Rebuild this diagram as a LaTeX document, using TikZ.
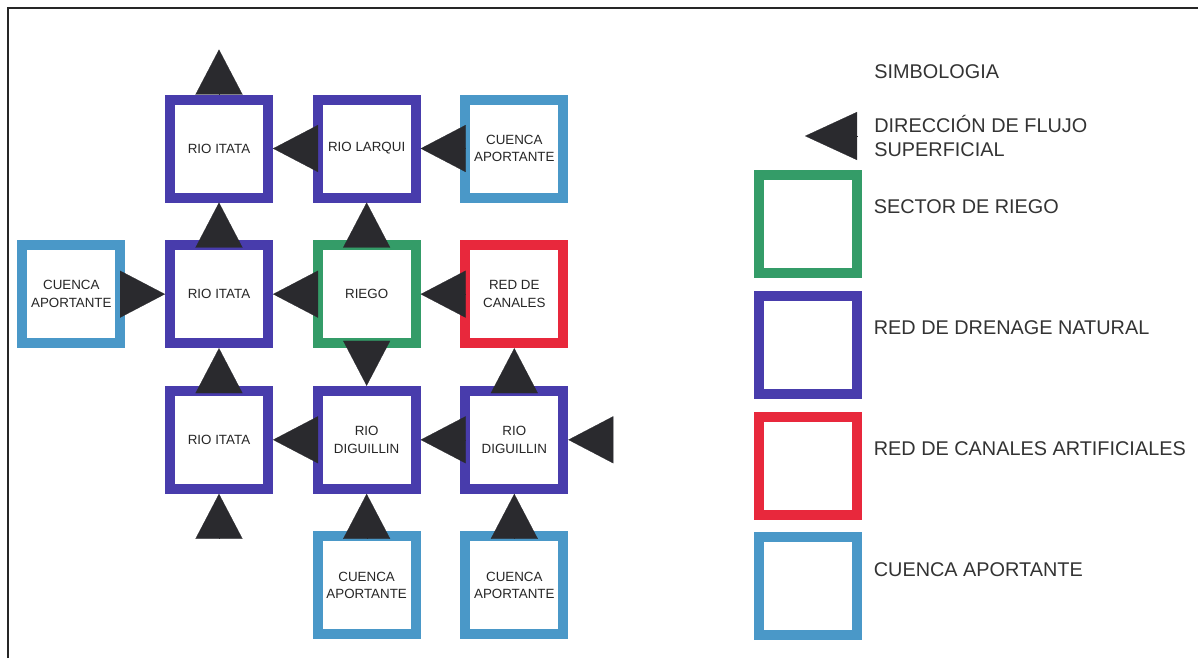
\documentclass[tikz,border=0pt]{standalone}
\usepackage{fontspec}
\setmainfont{Liberation Sans}
\usetikzlibrary{arrows.meta, positioning}
\definecolor{drenage}{RGB}{72,60,172}
\definecolor{riegocol}{RGB}{52,156,104}
\definecolor{canalcol}{RGB}{232,40,60}
\definecolor{cuencacol}{RGB}{74,152,200}
\definecolor{flowgray}{RGB}{42,42,46}

\begin{document}
\begin{tikzpicture}[
    node distance=0.753cm and 0.793cm,
    cell/.style={rectangle, draw=#1, line width=0.2cm, minimum size=1.96cm, inner sep=1pt, align=center, fill=white, font=\fontsize{7.6}{10}\selectfont, text=black!85},
    flow/.style={-{Triangle[length=0.9cm, width=0.94cm]}, line width=0.1pt, draw=flowgray},
    legtext/.style={inner sep=0pt, align=left, font=\fontsize{11.3}{14.2}\selectfont, text=black!80}
]
\useasboundingbox (0,0) rectangle (23.96,-13.16);
\draw[line width=1.1pt, black!85] (0.16,-13.16) -- (0.16,-0.16) -- (23.96,-0.16);

% Grid of sectors
\node[cell=drenage] (itataA) at (4.38,-2.97) {RIO ITATA};
\node[cell=drenage, right=of itataA]   (larqui)  {RIO LARQUI};
\node[cell=cuencacol, right=of larqui] (cuencaA) {CUENCA\\APORTANTE};
\node[cell=drenage, below=of itataA]   (itataB)  {RIO ITATA};
\node[cell=cuencacol, left=of itataB]  (cuencaB) {CUENCA\\APORTANTE};
\node[cell=riegocol, right=of itataB]  (riego)   {RIEGO};
\node[cell=canalcol, right=of riego]   (canales) {RED DE\\CANALES};
\node[cell=drenage, below=of itataB]   (itataC)  {RIO ITATA};
\node[cell=drenage, right=of itataC]   (diguA)   {RIO\\DIGUILLIN};
\node[cell=drenage, right=of diguA]    (diguB)   {RIO\\DIGUILLIN};
\node[cell=cuencacol, below=of diguA]  (cuencaC) {CUENCA\\APORTANTE};
\node[cell=cuencacol, below=of diguB]  (cuencaD) {CUENCA\\APORTANTE};

\coordinate[above=0.9cm of itataA.north] (outN);
\coordinate[below=0.87cm of itataC.south] (inS);
\coordinate[right=0.87cm of diguB.east]   (inE);

% Flow directions
\draw[flow] (itataA) -- (outN);
\draw[flow] (itataB) -- (itataA);
\draw[flow] (larqui) -- (itataA);
\draw[flow] (cuencaA) -- (larqui);
\draw[flow] (riego) -- (larqui);
\draw[flow] (cuencaB) -- (itataB);
\draw[flow] (riego) -- (itataB);
\draw[flow] (canales) -- (riego);
\draw[flow] (riego) -- (diguA);
\draw[flow] (itataC) -- (itataB);
\draw[flow] (diguA) -- (itataC);
\draw[flow] (diguB) -- (diguA);
\draw[flow] (diguB) -- (canales);
\draw[flow] (inS) -- (itataC);
\draw[flow] (inE) -- (diguB);
\draw[flow] (cuencaC) -- (diguA);
\draw[flow] (cuencaD) -- (diguB);

% Legend
\node[legtext, anchor=west] (simb) at (17.48,-1.44) {SIMBOLOGIA};
\coordinate (legtail) at (17.14,-2.72);
\coordinate (legtip) at (16.10,-2.72);
\draw[flow, -{Triangle[length=1.04cm, width=0.96cm]}] (legtail) -- (legtip);
\node[legtext, right=0.34cm of legtail] (legflujo) {DIRECCIÓN DE FLUJO\\SUPERFICIAL};

\node[cell=riegocol] (legriego) at (16.15,-4.48) {};
\node[cell=drenage, below=0.256cm of legriego]   (legdren)   {};
\node[cell=canalcol, below=0.256cm of legdren]   (legcanal)  {};
\node[cell=cuencacol, below=0.256cm of legcanal] (legcuenca) {};

\node[legtext, right=0.24cm of legriego, yshift=0.34cm]  {SECTOR DE RIEGO};
\node[legtext, right=0.24cm of legdren, yshift=0.34cm]   {RED DE DRENAGE NATURAL};
\node[legtext, right=0.24cm of legcanal, yshift=0.34cm]  {RED DE CANALES ARTIFICIALES};
\node[legtext, right=0.24cm of legcuenca, yshift=0.34cm] {CUENCA APORTANTE};
\end{tikzpicture}
\end{document}
